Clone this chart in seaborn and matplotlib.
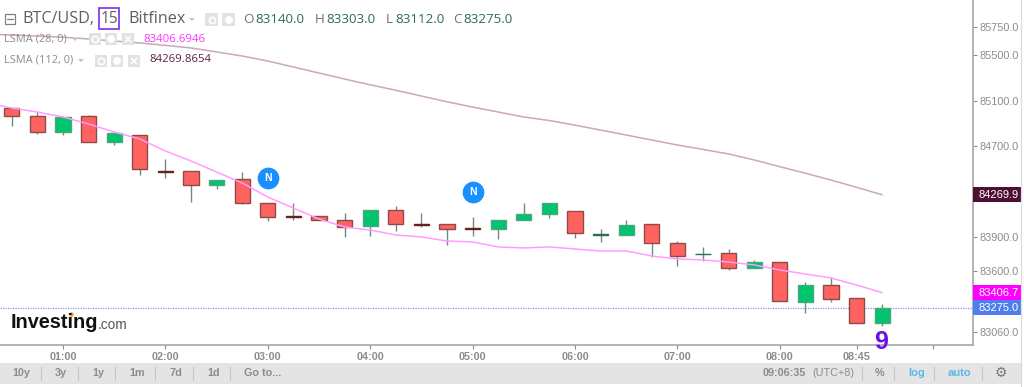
import matplotlib
matplotlib.use('Agg')
import matplotlib.pyplot as plt
from matplotlib.patches import Rectangle
import numpy as np
import pandas as pd
import seaborn as sns

# 15 minute candles, 00:30 to 09:00
opens = [85035, 84965, 84824, 84965, 84736, 84797, 84480, 84480, 84356, 84409, 84198, 84083,
         84083, 84048, 83995, 84136, 84012, 84012, 83977, 83968, 84048, 84101, 84127, 83915,
         83915, 84012, 83845, 83745, 83757, 83624, 83677, 83324, 83474, 83360, 83140]
highs = [85035, 85009, 84956, 84974, 84815, 84797, 84586, 84480, 84400, 84471, 84198, 84198,
         84083, 84109, 84136, 84171, 84109, 84012, 84074, 84048, 84198, 84198, 84127, 83968,
         84048, 84012, 83862, 83810, 83792, 83695, 83677, 83501, 83545, 83360, 83303]
lows = [84877, 84806, 84797, 84736, 84709, 84444, 84418, 84206, 84321, 84190, 84039, 84048,
        84048, 83898, 83906, 83951, 83986, 83827, 83906, 83880, 84048, 84065, 83889, 83854,
        83915, 83721, 83642, 83686, 83607, 83624, 83333, 83227, 83324, 83136, 83112]
closes = [84965, 84824, 84956, 84736, 84815, 84497, 84475, 84356, 84400, 84198, 84074, 84078,
          84048, 83986, 84136, 84012, 84007, 83968, 83972, 84048, 84101, 84198, 83933, 83920,
          84003, 83845, 83730, 83750, 83624, 83677, 83333, 83474, 83351, 83136, 83275]

# the two averages start one candle earlier (00:15), off the left edge
lsma_28 = [85080, 85035, 85000, 84956, 84894, 84824, 84762, 84656, 84568, 84471, 84374, 84250,
           84153, 84056, 83986, 83959, 83915, 83898, 83862, 83854, 83810, 83801, 83810, 83792,
           83774, 83774, 83730, 83704, 83695, 83677, 83651, 83607, 83571, 83536, 83474, 83406.7]
lsma_112 = [85688, 85679, 85670, 85660, 85644, 85626, 85609, 85588, 85565, 85530, 85494, 85450,
            85397, 85344, 85291, 85240, 85192, 85141, 85090, 85044, 85000, 84956, 84925, 84884,
            84841, 84797, 84753, 84709, 84670, 84630, 84577, 84518, 84460, 84400, 84336, 84269.9]

price_ticks = [85750, 85500, 85100, 84700, 83900, 83600, 83060]
time_ticks = [1, 2, 3, 4, 5, 6, 7, 8, 8.75, 9.5]
time_labels = ['01:00', '02:00', '03:00', '04:00', '05:00', '06:00', '07:00', '08:00', '08:45', '']
news_hours = [3, 5]
news_prices = [84418, 84295]
last_price = 83275
tag_prices = [84269.9, 83406.7, 83275.0]
tag_colors = ['#4f0f35', '#ff00ff', '#4f7fea']

GREY = '#8c8c8c'
UP = '#00c46e'
DOWN = '#ff6360'

sns.set_theme(style='white')
plt.rcParams['font.family'] = ['Liberation Sans', 'DejaVu Sans']

fig = plt.figure(figsize=(10.24, 3.87), dpi=100)
ax = fig.add_axes([0, 1 - 345 / 387, 973 / 1024, 345 / 387])

candle_hours = 0.5 + np.arange(len(opens)) * 0.25
line_hours = 0.25 + np.arange(len(lsma_28)) * 0.25
candles = pd.DataFrame({'hour': candle_hours, 'open': opens, 'high': highs, 'low': lows, 'close': closes})
candles['up'] = candles['close'] >= candles['open']

ax.vlines(candles['hour'], candles['low'], candles['high'], color='#6c8c7c', lw=1.0, zorder=2)
for _, c in candles.iterrows():
    bottom = min(c['open'], c['close'])
    height = max(abs(c['close'] - c['open']), 4)
    doji = abs(c['close'] - c['open']) < 8
    if c['up']:
        face, edge = UP, '#4fa582'
    else:
        face, edge = DOWN, '#8f4a48'
    if doji and not c['up']:
        edge = '#6a2020'
    if doji and c['up']:
        edge = '#2f6b50'
    ax.bar(c['hour'], height, bottom=bottom, width=0.15, color=face, edgecolor=edge, linewidth=1.0, zorder=3)

sns.lineplot(x=line_hours, y=lsma_112, color='#c9a9b6', linewidth=1.1, ax=ax, legend=False, zorder=4)
sns.lineplot(x=line_hours, y=lsma_28, color='#ff9cff', linewidth=1.1, ax=ax, legend=False, zorder=4)

ax.axhline(last_price, color='#7f9cf0', lw=0.9, ls=(0, (1, 1)), zorder=1)

ax.scatter(news_hours, news_prices, s=245, color='#1a90ff', linewidths=0, zorder=5)
for h, p in zip(news_hours, news_prices):
    ax.text(h, p, 'N', color='white', fontsize=7.5, fontweight='bold', ha='center', va='center', zorder=6)

ax.set_xlim(1 - 63 / 102.4, 1 + 910 / 102.4)
ax.set_ylim(82945, 85988)
ax.set_xlabel('')
ax.set_ylabel('')
ax.set_xticks(time_ticks)
ax.set_xticklabels(time_labels)
ax.yaxis.tick_right()
ax.set_yticks(price_ticks)
ax.set_yticklabels([f'{v:.1f}' for v in price_ticks])
ax.tick_params(axis='both', colors=GREY, labelsize=7.8, length=3, width=0.8, pad=2)
ax.tick_params(axis='y', left=False, right=True)
ax.tick_params(axis='x', bottom=True)
for tick_label in ax.get_xticklabels():
    tick_label.set_fontweight('bold')
for side in ['top', 'left']:
    ax.spines[side].set_visible(False)
for side in ['right', 'bottom']:
    ax.spines[side].set_visible(True)
    ax.spines[side].set_color('#a6a6a6')
    ax.spines[side].set_linewidth(1.2)

# coloured price tags on the right axis
trans = ax.get_yaxis_transform()
for price, color in zip(tag_prices, tag_colors):
    ax.add_patch(Rectangle((1, price - 66), 48 / 973, 132, transform=trans, color=color, lw=0, clip_on=False, zorder=7))
    ax.text(1 + 5 / 973, price, f'{price:.1f}', transform=trans, color='white', fontsize=8,
            va='center', ha='left', clip_on=False, zorder=8)

# everything around the chart, in pixel coordinates
ui = fig.add_axes([0, 0, 1, 1], facecolor='none')
ui.set_xlim(0, 1024)
ui.set_ylim(387, 0)
ui.axis('off')


def label(x, y, s, color=GREY, size=7.8, family='Open Sans', weight='normal', ha='left'):
    ui.text(x, y, s, color=color, fontsize=size, family=family, fontweight=weight, ha=ha, va='center')


def icon_box(x, y, w, h, mark):
    ui.add_patch(Rectangle((x, y), w, h, color='#e2e2e2', lw=0))
    ui.plot(x + w / 2, y + h / 2, marker=mark, ms=4.5, mfc='none' if mark == 'o' else 'white',
            mec='white', mew=1.2, ls='none')


def caret(x, y):
    ui.fill([x, x + 6, x + 3], [y, y, y + 3], color='#c4c4c4', lw=0)


# header
ui.add_patch(Rectangle((4.5, 14), 10, 10, fill=False, ec='#808080', lw=0.9))
ui.plot([6.5, 12.5], [19, 19], color='#808080', lw=0.9)
label(22, 19, 'BTC/USD,', color='#5f5f5f', size=11.6)
ui.add_patch(Rectangle((98.5, 7.5), 20.5, 21, fill=False, ec='#7b2ff0', lw=1.2))
label(100.5, 19, '15', color='#5f5f5f', size=11.2)
label(128, 19, 'Bitfinex', color='#5f5f5f', size=11.6)
caret(189, 18)
icon_box(205, 13, 13, 13, 'o')
icon_box(222, 13, 13, 13, '8')
for x, letter, vx, value in [(243, 'O', 255, '83140.0'), (315, 'H', 326, '83303.0'),
                             (386, 'L', 395, '83112.0'), (453, 'C', 463, '83275.0')]:
    label(x, 19.5, letter, color='#707070', size=9.6)
    label(vx, 19.5, value, color='#2f6b4f', size=9.6)

# indicator rows
label(4, 39, 'LSMA (28, 0)', size=7.9)
caret(72, 38)
for x, mark in [(89, 'o'), (105, '8'), (122, 'x')]:
    icon_box(x, 33, 12, 12, mark)
label(143, 39, '83406.6946', color='#ff33ff', size=8.2)
label(4, 60, 'LSMA (112, 0)', size=7.9)
caret(78, 59)
for x, mark in [(95, 'o'), (111, '8'), (128, 'x')]:
    icon_box(x, 55, 12, 12, mark)
label(149, 60, '84269.8654', color='#5b1f45', size=8.2)

# logo
ui.text(11, 322, 'Investing', color='#111111', fontsize=14.3, fontweight='bold', ha='left', va='center')
ui.text(98, 325, '.com', color='#555555', fontsize=9.8, ha='left', va='center')
ui.plot(71, 314, marker='o', ms=2.2, color='#f59a23', ls='none')

# the sequence count
ui.text(881, 342, '9', color='#6a0fe8', fontsize=18, fontweight='bold', ha='center', va='center')

# bottom toolbar
ui.add_patch(Rectangle((0, 363), 1021, 21, color='#e4e4e4', lw=0))
for x, s in [(12, '10y'), (55, '3y'), (92, '1y'), (129, '1m'), (169, '7d'), (207, '1d'), (244, 'Go to...')]:
    label(x, 373, s, family='Liberation Sans', weight='bold', size=7.8)
for x in [41, 78, 115, 155, 193, 230, 862, 894, 934, 982]:
    ui.plot([x, x], [367, 380], color='#c4c4c4', lw=0.8)
label(763, 373, '09:06:35', family='Liberation Sans', weight='bold', size=7.8)
label(812, 373, '(UTC+8)', family='Liberation Sans', size=7.8)
label(875, 373, '%', family='Liberation Sans', weight='bold', size=7.8)
label(908, 373, 'log', color='#5cb8e6', family='Liberation Sans', weight='bold', size=8)
label(948, 373, 'auto', color='#5cb8e6', family='Liberation Sans', weight='bold', size=8)
ui.text(1001, 373, '\u2699', color='#777777', fontsize=10, family='DejaVu Sans', ha='center', va='center')
ui.plot([1021, 1021], [0, 387], color='#dcdce0', lw=0.9)

fig.savefig('out.png', dpi=100)
